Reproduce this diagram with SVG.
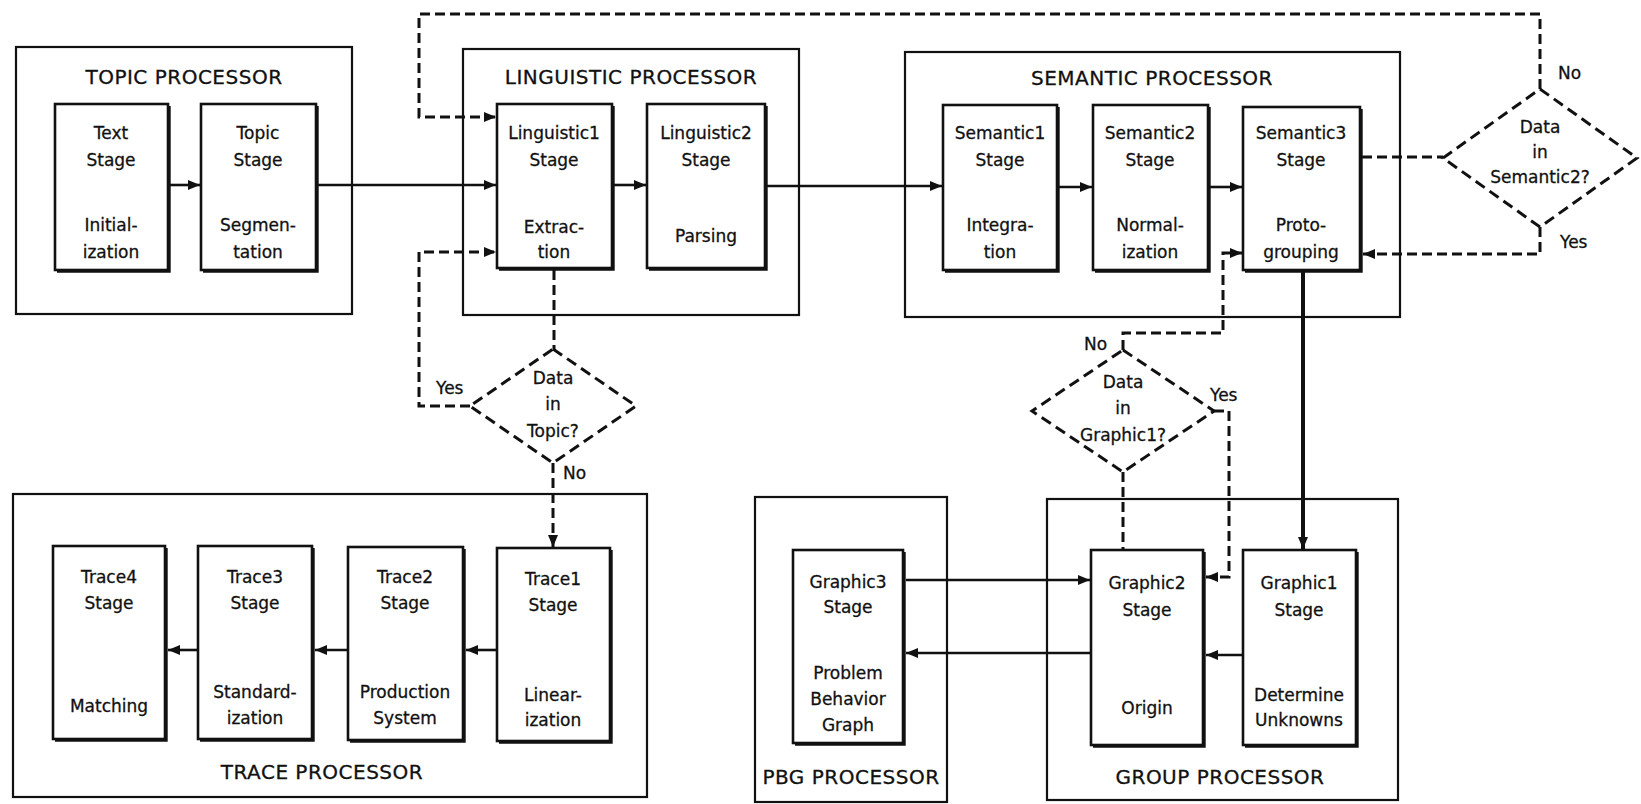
<svg xmlns="http://www.w3.org/2000/svg" width="1641" height="804" viewBox="0 0 1641 804">
<style>
.proc{fill:none;stroke:#111;stroke-width:2.2}
.stage{fill:#fff;stroke:#111;stroke-width:2.6}
.sh{fill:none;stroke:#111;stroke-width:2.4}
.dia{fill:none;stroke:#111;stroke-width:3;stroke-dasharray:11 6}
.t{font-family:"DejaVu Sans",sans-serif;font-size:17px;fill:#111;stroke:#111;stroke-width:0.3;text-anchor:middle}
.title{font-family:"DejaVu Sans",sans-serif;font-size:20px;letter-spacing:0.5px;fill:#111;stroke:#111;stroke-width:0.3;text-anchor:middle}
.lbl{font-family:"DejaVu Sans",sans-serif;font-size:17px;fill:#111;stroke:#111;stroke-width:0.3}
.flow{fill:none;stroke:#111;stroke-width:2.6}
.thick{fill:none;stroke:#111;stroke-width:4}
.dash{fill:none;stroke:#111;stroke-width:3;stroke-dasharray:10 5}
</style>
<defs>
<marker id="ah" markerUnits="userSpaceOnUse" markerWidth="12" markerHeight="10" refX="12" refY="5" orient="auto">
<path d="M0,0 L12,5 L0,10 z" fill="#111"/>
</marker>
</defs>
<rect width="1641" height="804" fill="#fff"/>

<g id="topic-processor">
<rect class="proc" x="16" y="47" width="336" height="267"/>
<text class="title" x="184" y="84">TOPIC PROCESSOR</text>
</g>
<g id="text-stage">
<rect class="stage" x="55" y="104" width="113" height="166"/>
<path class="sh" d="M169.5,106 V271.5 H57"/>
<text class="t" x="111" y="139">Text</text><text class="t" x="111" y="166">Stage</text>
<text class="t" x="111" y="231">Initial-</text><text class="t" x="111" y="258">ization</text>
</g>
<g id="topic-stage">
<rect class="stage" x="201" y="104" width="115" height="166"/>
<path class="sh" d="M317.5,106 V271.5 H203"/>
<text class="t" x="258" y="139">Topic</text><text class="t" x="258" y="166">Stage</text>
<text class="t" x="258" y="231">Segmen-</text><text class="t" x="258" y="258">tation</text>
</g>

<g id="linguistic-processor">
<rect class="proc" x="463" y="49" width="336" height="266"/>
<text class="title" x="631" y="84">LINGUISTIC PROCESSOR</text>
</g>
<g id="linguistic1-stage">
<rect class="stage" x="497" y="104" width="115" height="164"/>
<path class="sh" d="M613.5,106 V269.5 H499"/>
<text class="t" x="554" y="139">Linguistic1</text><text class="t" x="554" y="166">Stage</text>
<text class="t" x="554" y="233">Extrac-</text><text class="t" x="554" y="258">tion</text>
</g>
<g id="linguistic2-stage">
<rect class="stage" x="647" y="104" width="118" height="164"/>
<path class="sh" d="M766.5,106 V269.5 H649"/>
<text class="t" x="706" y="139">Linguistic2</text><text class="t" x="706" y="166">Stage</text>
<text class="t" x="706" y="242">Parsing</text>
</g>

<g id="semantic-processor">
<rect class="proc" x="905" y="52" width="495" height="265"/>
<text class="title" x="1152" y="85">SEMANTIC PROCESSOR</text>
</g>
<g id="semantic1-stage">
<rect class="stage" x="943" y="105" width="114" height="165"/>
<path class="sh" d="M1058.5,107 V271.5 H945"/>
<text class="t" x="1000" y="139">Semantic1</text><text class="t" x="1000" y="166">Stage</text>
<text class="t" x="1000" y="231">Integra-</text><text class="t" x="1000" y="258">tion</text>
</g>
<g id="semantic2-stage">
<rect class="stage" x="1093" y="105" width="115" height="165"/>
<path class="sh" d="M1209.5,107 V271.5 H1095"/>
<text class="t" x="1150" y="139">Semantic2</text><text class="t" x="1150" y="166">Stage</text>
<text class="t" x="1150" y="231">Normal-</text><text class="t" x="1150" y="258">ization</text>
</g>
<g id="semantic3-stage">
<rect class="stage" x="1243" y="107" width="117" height="163"/>
<path class="sh" d="M1361.5,109 V271.5 H1245"/>
<text class="t" x="1301" y="139">Semantic3</text><text class="t" x="1301" y="166">Stage</text>
<text class="t" x="1301" y="231">Proto-</text><text class="t" x="1301" y="258">grouping</text>
</g>

<g id="decision-semantic2">
<polygon class="dia" points="1540,89 1637,158 1540,227 1443,158"/>
<text class="t" x="1540" y="133">Data</text><text class="t" x="1540" y="158">in</text><text class="t" x="1540" y="183">Semantic2?</text>
<text class="lbl" x="1558" y="79">No</text>
<text class="lbl" x="1560" y="248">Yes</text>
</g>

<g id="decision-topic">
<polygon class="dia" points="553,349 636,406 553,463 470,406"/>
<text class="t" x="553" y="384">Data</text><text class="t" x="553" y="410">in</text><text class="t" x="553" y="437">Topic?</text>
<text class="lbl" x="436" y="394">Yes</text>
<text class="lbl" x="563" y="479">No</text>
</g>

<g id="decision-graphic1">
<polygon class="dia" points="1123,350 1214,411 1123,472 1032,411"/>
<text class="t" x="1123" y="388">Data</text><text class="t" x="1123" y="414">in</text><text class="t" x="1123" y="441">Graphic1?</text>
<text class="lbl" x="1084" y="350">No</text>
<text class="lbl" x="1210" y="401">Yes</text>
</g>

<g id="trace-processor">
<rect class="proc" x="13" y="494" width="634" height="303"/>
<text class="title" x="322" y="779">TRACE PROCESSOR</text>
</g>
<g id="trace4-stage">
<rect class="stage" x="53" y="546" width="112" height="193"/>
<path class="sh" d="M166.5,548 V740.5 H55"/>
<text class="t" x="109" y="583">Trace4</text><text class="t" x="109" y="609">Stage</text>
<text class="t" x="109" y="712">Matching</text>
</g>
<g id="trace3-stage">
<rect class="stage" x="198" y="546" width="114" height="193"/>
<path class="sh" d="M313.5,548 V740.5 H200"/>
<text class="t" x="255" y="583">Trace3</text><text class="t" x="255" y="609">Stage</text>
<text class="t" x="255" y="698">Standard-</text><text class="t" x="255" y="724">ization</text>
</g>
<g id="trace2-stage">
<rect class="stage" x="348" y="547" width="115" height="193"/>
<path class="sh" d="M464.5,549 V741.5 H350"/>
<text class="t" x="405" y="583">Trace2</text><text class="t" x="405" y="609">Stage</text>
<text class="t" x="405" y="698">Production</text><text class="t" x="405" y="724">System</text>
</g>
<g id="trace1-stage">
<rect class="stage" x="497" y="548" width="113" height="193"/>
<path class="sh" d="M611.5,550 V742.5 H499"/>
<text class="t" x="553" y="585">Trace1</text><text class="t" x="553" y="611">Stage</text>
<text class="t" x="553" y="701">Linear-</text><text class="t" x="553" y="726">ization</text>
</g>

<g id="pbg-processor">
<rect class="proc" x="755" y="497" width="192" height="305"/>
<text class="title" x="851" y="784">PBG PROCESSOR</text>
</g>
<g id="graphic3-stage">
<rect class="stage" x="793" y="550" width="110" height="193"/>
<path class="sh" d="M904.5,552 V744.5 H795"/>
<text class="t" x="848" y="588">Graphic3</text><text class="t" x="848" y="613">Stage</text>
<text class="t" x="848" y="679">Problem</text><text class="t" x="848" y="705">Behavior</text><text class="t" x="848" y="731">Graph</text>
</g>

<g id="group-processor">
<rect class="proc" x="1047" y="499" width="351" height="301"/>
<text class="title" x="1220" y="784">GROUP PROCESSOR</text>
</g>
<g id="graphic2-stage">
<rect class="stage" x="1091" y="550" width="112" height="195"/>
<path class="sh" d="M1204.5,552 V746.5 H1093"/>
<text class="t" x="1147" y="589">Graphic2</text><text class="t" x="1147" y="616">Stage</text>
<text class="t" x="1147" y="714">Origin</text>
</g>
<g id="graphic1-stage">
<rect class="stage" x="1243" y="550" width="113" height="195"/>
<path class="sh" d="M1357.5,552 V746.5 H1245"/>
<text class="t" x="1299" y="589">Graphic1</text><text class="t" x="1299" y="616">Stage</text>
<text class="t" x="1299" y="701">Determine</text><text class="t" x="1299" y="726">Unknowns</text>
</g>

<g id="connectors">
<path class="flow" d="M170,185 H200" marker-end="url(#ah)"/>
<path class="flow" d="M318,185 H496" marker-end="url(#ah)"/>
<path class="flow" d="M614,185 H646" marker-end="url(#ah)"/>
<path class="flow" d="M767,186 H942" marker-end="url(#ah)"/>
<path class="flow" d="M1059,187 H1092" marker-end="url(#ah)"/>
<path class="flow" d="M1210,187 H1242" marker-end="url(#ah)"/>
<path class="thick" d="M1303,272 V549" marker-end="url(#ah)"/>
<path class="dash" d="M1362,157 H1443"/>
<path class="dash" d="M1540,89 V14 H419 V117 H496" marker-end="url(#ah)"/>
<path class="dash" d="M1540,227 V254 H1363" marker-end="url(#ah)"/>
<path class="dash" d="M554,270 V349"/>
<path class="dash" d="M470,406 H419 V252 H496" marker-end="url(#ah)"/>
<path class="dash" d="M553,463 V547" marker-end="url(#ah)"/>
<path class="dash" d="M1123,350 V333 H1223 V253 H1242" marker-end="url(#ah)"/>
<path class="dash" d="M1214,411 H1229 V577 H1206" marker-end="url(#ah)"/>
<path class="dash" d="M1123,472 V550"/>
<path class="flow" d="M497,650 H466" marker-end="url(#ah)"/>
<path class="flow" d="M348,650 H315" marker-end="url(#ah)"/>
<path class="flow" d="M198,650 H168" marker-end="url(#ah)"/>
<path class="flow" d="M906,580 H1090" marker-end="url(#ah)"/>
<path class="flow" d="M1091,653 H906" marker-end="url(#ah)"/>
<path class="flow" d="M1243,655 H1206" marker-end="url(#ah)"/>
</g>
</svg>
